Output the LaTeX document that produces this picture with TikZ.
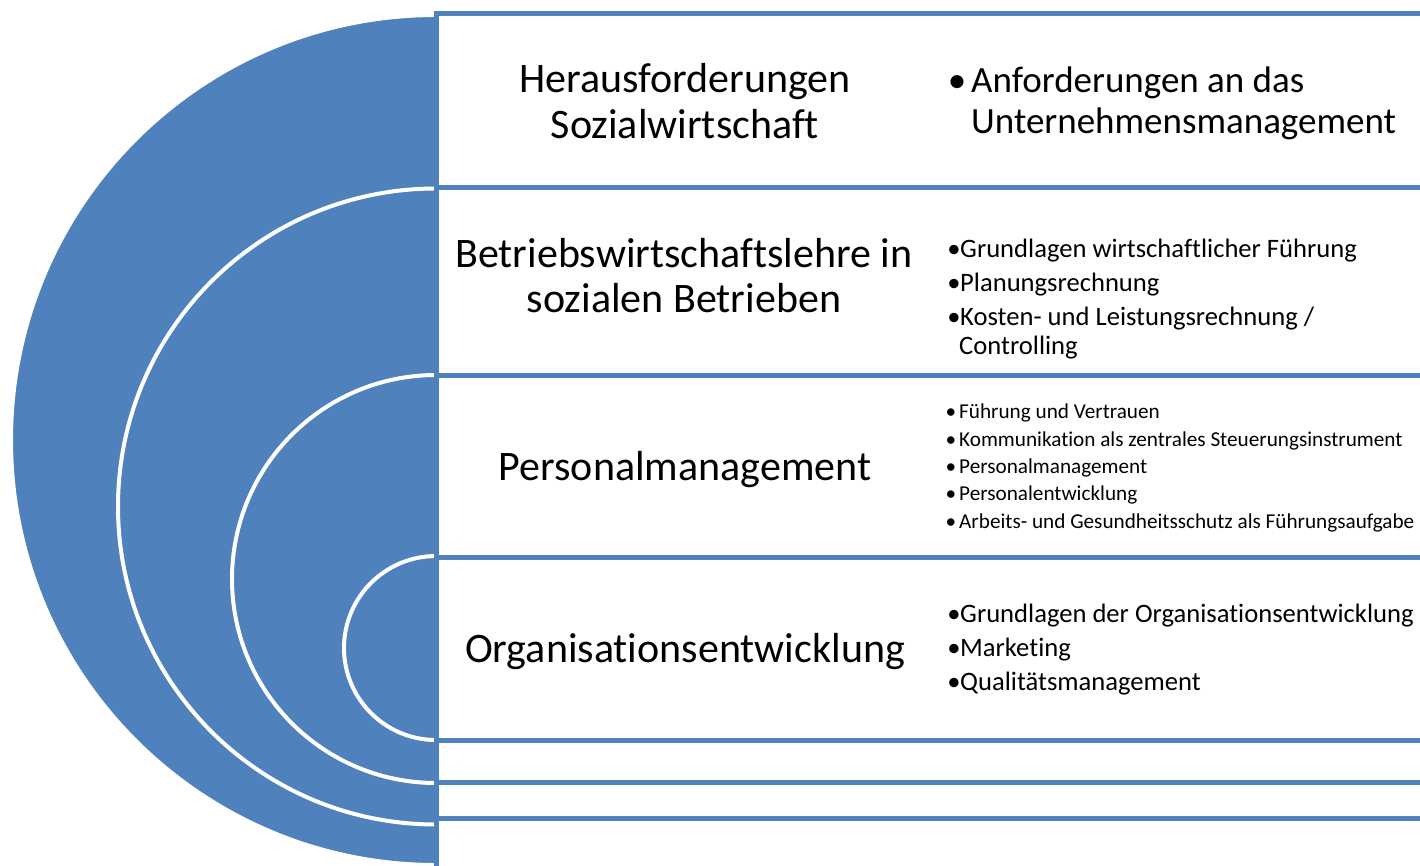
\documentclass[tikz,border=0pt]{standalone}
\usepackage{fontspec}
\setmainfont[Ligatures=NoCommon]{Carlito}
\definecolor{accblue}{HTML}{4F81BD}
\begin{document}
\begin{tikzpicture}[x=1pt,y=1pt,
  disc/.style={fill=accblue,draw=white,line width=4pt},
  panel/.style={fill=white,draw=accblue,line width=5pt},
  biglabel/.style={anchor=base,inner sep=0pt,font=\fontsize{42}{46}\selectfont},
  toptext/.style={anchor=base west,inner sep=0pt,font=\fontsize{37}{41}\selectfont},
  midtext/.style={anchor=base west,inner sep=0pt,font=\fontsize{26.6}{29}\selectfont},
  smalltext/.style={anchor=base west,inner sep=0pt,font=\fontsize{21.2}{24}\selectfont},
  bul/.style={anchor=base,inner sep=0pt}
]
\useasboundingbox (0,0) rectangle (1420,-865);
\clip (0,0) rectangle (1420,-865);
% nested half discs
\path[disc] (436,-15) arc[start angle=90,end angle=270,radius=425] -- cycle;
\path[disc] (436,-188.5) arc[start angle=90,end angle=270,radius=318] -- cycle;
\path[disc] (436,-375) arc[start angle=90,end angle=270,radius=204] -- cycle;
\path[disc] (436,-556) arc[start angle=90,end angle=270,radius=92] -- cycle;
% panels
\path[panel] (436,-13) rectangle (1440,-900);
\path[panel] (436,-187) rectangle (1440,-818);
\path[panel] (436,-375) rectangle (1440,-782);
\path[panel] (436,-557) rectangle (1440,-740);
% left labels
\node[biglabel] (l1a) at (685,-92) {Herausforderungen};
\node[biglabel] (l1b) at (685,-138) {Sozialwirtschaft};
\node[biglabel] (l2a) at (684,-267) {Betriebswirtschaftslehre in};
\node[biglabel] (l2b) at (684,-312) {sozialen Betrieben};
\node[biglabel] (l3) at (685,-480) {Personalmanagement};
\node[biglabel] (l4) at (685,-662) {Organisationsentwicklung};
% box 1 right
\node[bul,font=\fontsize{37}{41}\selectfont] (b1) at (957,-92) {•};
\node[toptext] (t1a) at (971,-92) {Anforderungen an das};
\node[toptext] (t1b) at (971,-133) {Unternehmensmanagement};
% box 2 right
\node[bul,font=\fontsize{26.6}{29}\selectfont] (b2a) at (954,-257) {•};
\node[midtext] (t2a) at (960,-257) {Grundlagen wirtschaftlicher Führung};
\node[bul,font=\fontsize{26.6}{29}\selectfont] (b2b) at (954,-291) {•};
\node[midtext] (t2b) at (960,-291) {Planungsrechnung};
\node[bul,font=\fontsize{26.6}{29}\selectfont] (b2c) at (954,-325) {•};
\node[midtext] (t2c) at (960,-325) {Kosten- und Leistungsrechnung /};
\node[midtext] (t2d) at (959,-354) {Controlling};
% box 3 right
\node[bul,font=\fontsize{21.2}{24}\selectfont] (b3a) at (951,-418) {•};
\node[smalltext] (t3a) at (959,-418) {Führung und Vertrauen};
\node[bul,font=\fontsize{21.2}{24}\selectfont] (b3b) at (951,-446) {•};
\node[smalltext] (t3b) at (959,-446) {Kommunikation als zentrales Steuerungsinstrument};
\node[bul,font=\fontsize{21.2}{24}\selectfont] (b3c) at (951,-473) {•};
\node[smalltext] (t3c) at (959,-473) {Personalmanagement};
\node[bul,font=\fontsize{21.2}{24}\selectfont] (b3d) at (951,-500) {•};
\node[smalltext] (t3d) at (959,-500) {Personalentwicklung};
\node[bul,font=\fontsize{21.2}{24}\selectfont] (b3e) at (951,-528) {•};
\node[smalltext] (t3e) at (959,-528) {Arbeits- und Gesundheitsschutz als Führungsaufgabe};
% box 4 right
\node[bul,font=\fontsize{26.6}{29}\selectfont] (b4a) at (954,-622) {•};
\node[midtext] (t4a) at (960,-622) {Grundlagen der Organisationsentwicklung};
\node[bul,font=\fontsize{26.6}{29}\selectfont] (b4b) at (954,-656) {•};
\node[midtext] (t4b) at (960,-656) {Marketing};
\node[bul,font=\fontsize{26.6}{29}\selectfont] (b4c) at (954,-690) {•};
\node[midtext] (t4c) at (960,-690) {Qualitätsmanagement};
\end{tikzpicture}
\end{document}
